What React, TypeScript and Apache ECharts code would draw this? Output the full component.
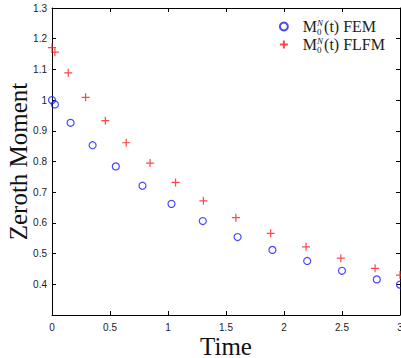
import React, { useEffect, useRef } from "react";
import * as echarts from "echarts";

const femT = [0, 0.025, 0.16, 0.35, 0.55, 0.78, 1.03, 1.3, 1.6, 1.9, 2.2, 2.5, 2.8, 3.0];
const femM = [1.0, 0.986, 0.926, 0.853, 0.784, 0.721, 0.662, 0.606, 0.554, 0.512, 0.476, 0.444, 0.416, 0.399];
const flfmT = [0, 0.025, 0.14, 0.29, 0.46, 0.64, 0.845, 1.065, 1.305, 1.585, 1.885, 2.19, 2.49, 2.785, 3.0];
const flfmM = [1.171, 1.156, 1.089, 1.009, 0.933, 0.861, 0.795, 0.732, 0.672, 0.617, 0.566, 0.522, 0.485, 0.452, 0.43];
const seriesNames = ["FEM", "FLFM"];

export default function App() {
  const ref = useRef<HTMLDivElement>(null);
  useEffect(() => {
    document.body.style.margin = "0";
    const chart = echarts.init(ref.current!, null, { renderer: "svg" });
    const tickLabel = { fontFamily: "Liberation Sans", fontSize: 10, color: "#222" };
    const serif = "Liberation Serif";
    chart.setOption({
      animation: false,
      backgroundColor: "#fff",
      grid: { left: 52, right: 1, top: 8, bottom: 43, containLabel: false, outerBoundsMode: "none" },
      legend: {
        orient: "vertical",
        right: 11,
        top: 13,
        itemGap: 0,
        itemWidth: 8,
        itemHeight: 8,
        data: seriesNames,
        formatter: (n: string) => `M{sub|0}{sup|N}(t) ${n}`,
        textStyle: {
          fontFamily: serif,
          fontSize: 16,
          color: "#222",
          padding: [0, 0, 0, 10],
          rich: {
            sub: { fontFamily: serif, fontSize: 9, width: 0, padding: [10, 0, 0, 0], color: "#222" },
            sup: { fontFamily: serif, fontSize: 9, fontStyle: "italic", padding: [0, 1, 8, 0], color: "#222" },
          },
        },
      },
      xAxis: [
        {
          type: "value",
          min: 0,
          max: 3,
          interval: 0.5,
          name: "Time",
          nameLocation: "middle",
          nameGap: 20,
          nameMoveOverlap: false,
          nameTextStyle: { fontFamily: serif, fontSize: 25, lineHeight: 22, color: "#111" },
          axisLine: { onZero: false, lineStyle: { color: "#000", width: 1 } },
          axisTick: { inside: true, length: 4, lineStyle: { color: "#000" } },
          axisLabel: { ...tickLabel, margin: 7 },
          splitLine: { show: false },
        },
        {
          type: "value",
          position: "top",
          min: 0,
          max: 3,
          interval: 0.5,
          axisLine: { onZero: false, lineStyle: { color: "#000", width: 1 } },
          axisTick: { inside: true, length: 4, lineStyle: { color: "#000" } },
          axisLabel: { show: false },
          splitLine: { show: false },
        },
      ],
      yAxis: [
        {
          type: "value",
          min: 0.3,
          max: 1.3,
          interval: 0.1,
          name: "Zeroth Moment",
          nameLocation: "middle",
          nameGap: 22,
          nameMoveOverlap: false,
          nameTextStyle: { fontFamily: serif, fontSize: 25, lineHeight: 24, color: "#111" },
          axisLine: { onZero: false, lineStyle: { color: "#000", width: 1 } },
          axisTick: { inside: true, length: 4, lineStyle: { color: "#000" } },
          axisLabel: {
            ...tickLabel,
            margin: 5,
            formatter: (v: number) => (v < 0.35 ? "" : String(Math.round(v * 10) / 10)),
          },
          splitLine: { show: false },
        },
        {
          type: "value",
          position: "right",
          min: 0.3,
          max: 1.3,
          interval: 0.1,
          axisLine: { onZero: false, lineStyle: { color: "#000", width: 1 } },
          axisTick: { inside: true, length: 4, lineStyle: { color: "#000" } },
          axisLabel: { show: false },
          splitLine: { show: false },
        },
      ],
      series: [
        {
          name: seriesNames[0],
          type: "scatter",
          clip: false,
          symbol: "circle",
          symbolSize: 7,
          itemStyle: { color: "rgba(0,0,0,0)", borderColor: "#1a1aff", borderWidth: 1.2 },
          data: femT.map((t, i) => [t, femM[i]]),
        },
        {
          name: seriesNames[1],
          type: "scatter",
          clip: false,
          symbol: "path://M5,0L5,10M0,5L10,5",
          symbolSize: 8,
          itemStyle: { color: "#ff1a1a", borderColor: "#ff1a1a", borderWidth: 1.2 },
          data: flfmT.map((t, i) => [t, flfmM[i]]),
        },
      ],
    });
    return () => chart.dispose();
  }, []);
  return <div ref={ref} style={{ position: "fixed", left: 0, top: 0, width: 401, height: 358 }} />;
}
